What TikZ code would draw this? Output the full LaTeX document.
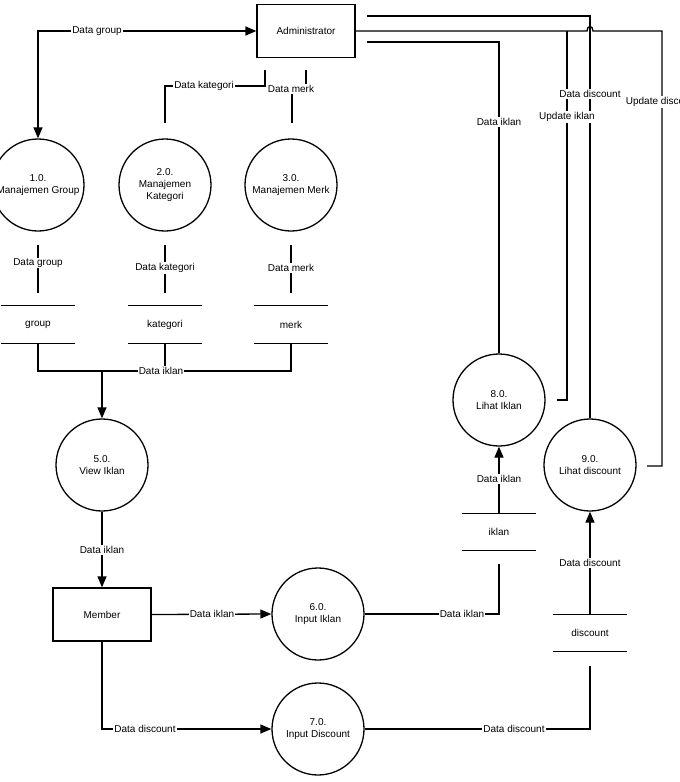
\documentclass[tikz,border=0pt]{standalone}
\usepackage{fontspec}
\setmainfont{Liberation Sans}
\usetikzlibrary{arrows.meta}
\begin{document}
\begin{tikzpicture}[x=1pt,y=-1pt,
  every node/.style={font=\fontsize{10}{12}\selectfont},
  ln/.style={line width=1.3pt},
  tip/.tip={Triangle[length=11pt,width=9pt]},
  arr/.style={ln,-tip},
  proc/.style={circle,draw,line width=1.3pt,minimum size=92pt,align=center,inner sep=0pt},
  ent/.style={rectangle,draw,line width=1.3pt,minimum width=98pt,minimum height=53pt},
  store/.style={minimum width=74pt,minimum height=37pt,inner sep=0pt},
  lbl/.style={fill=white,inner sep=1pt}]
\useasboundingbox (0,0) rectangle (680,782);

% entities
\node[ent] (admin) at (306,31) {Administrator};
\node[ent] (member) at (102,614.5) {Member};

% processes
\node[proc] (p1) at (38,185) {1.0.\\Manajemen Group};
\node[proc] (p2) at (165,185) {2.0.\\Manajemen\\Kategori};
\node[proc] (p3) at (291,185) {3.0.\\Manajemen Merk};
\node[proc] (p5) at (102,465) {5.0.\\View Iklan};
\node[proc] (p6) at (318,614) {6.0.\\Input Iklan};
\node[proc] (p7) at (318,729) {7.0.\\Input Discount};
\node[proc] (p8) at (499,400) {8.0.\\Lihat Iklan};
\node[proc] (p9) at (590,465) {9.0.\\Lihat discount};

% stores
\node[store] (sgroup) at (38,324.5) {group};
\node[store] (skat) at (165,324.5) {kategori};
\node[store] (smerk) at (291,324.5) {merk};
\node[store] (siklan) at (499,532) {iklan};
\node[store] (sdisc) at (590,633) {discount};
\foreach \s in {sgroup,skat,smerk,siklan,sdisc}{
  \draw[ln] (\s.north west) -- (\s.north east);
  \draw[ln] (\s.south west) -- (\s.south east);
}

% coordinates
\coordinate (k1) at (265,70);
\coordinate (m1) at (306,70);
\coordinate (c1a) at (38,245);  \coordinate (c1b) at (38,293);
\coordinate (c2a) at (165,245); \coordinate (c2b) at (165,293);
\coordinate (c3a) at (291,245); \coordinate (c3b) at (291,293);
\coordinate (j5) at (102,371);
\coordinate (ie) at (499,564);
\coordinate (de) at (590,666);
\coordinate (t1) at (367,16);
\coordinate (t3) at (367,42);

% flows
\draw[ln,tip-tip] (p1.north) |- (admin.west);
\draw[ln] (k1) -- (265,86) -| (165,123);
\draw[ln] (m1) -- (306,89) -- (292,89) -- (292,123);
\draw[ln] (c1a) -- (c1b);
\draw[ln] (c2a) -- (c2b);
\draw[ln] (c3a) -- (c3b);
\draw[ln] (sgroup.south) |- (smerk.south |- j5) -- (smerk.south);
\draw[ln] (skat.south) -- (skat.south |- j5);
\draw[arr] (j5) -- (p5.north);
\draw[arr] (p5.south) -- (member.north);
\draw[arr] (member.east) -- (p6.west);
\draw[arr] (member.south) |- (p7.west);
\draw[ln] (p6.east) -| (ie);
\draw[arr] (siklan.north) -- (p8.south);
\draw[ln] (p7.east) -| (de);
\draw[arr] (sdisc.north) -- (p9.south);
\draw[ln] (t1) -| (p9.north);
\draw[ln] (t3) -| (p8.north);
\draw[ln] (admin.east) -- (587,31) .. controls (587,25) and (593,25) .. (593,31) -- (662,31) -- (662,466) -- (647,466);
\draw[ln] (567,31) -- (567,400) -- (557,400);

% labels
\node[lbl] (l1) at (97,31) {Data group};
\node[lbl] (l2) at (204,86) {Data kategori};
\node[lbl] (l3) at (291,89) {Data merk};
\node[lbl] (l4) at (38,263) {Data group};
\node[lbl] (l5) at (165,268) {Data kategori};
\node[lbl] (l6) at (291,268) {Data merk};
\node[lbl] (l7) at (161,371) {Data iklan};
\node[lbl] (l8) at (102,550) {Data iklan};
\node[lbl] (l9) at (212,614) {Data iklan};
\node[lbl] (l10) at (145,729) {Data discount};
\node[lbl] (l11) at (462,614) {Data iklan};
\node[lbl] (l12) at (499,479) {Data iklan};
\node[lbl] (l13) at (514,729) {Data discount};
\node[lbl] (l14) at (590,563) {Data discount};
\node[lbl] (l15) at (499,122) {Data iklan};
\node[lbl] (l16) at (590,94) {Data discount};
\node[lbl] (l17) at (567,117) {Update iklan};
\node[lbl] (l18) at (662,102) {Update discount};
\end{tikzpicture}
\end{document}
